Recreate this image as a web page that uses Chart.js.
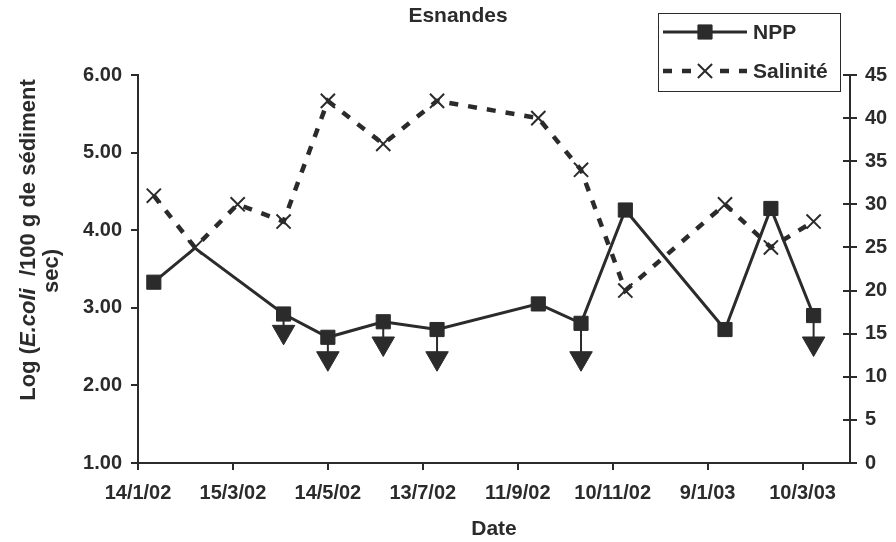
<!DOCTYPE html>
<html>
<head>
<meta charset="utf-8">
<title>Esnandes</title>
<script src="https://cdn.jsdelivr.net/npm/chart.js@4.4.1/dist/chart.umd.min.js"></script>
<style>
  html, body { margin: 0; padding: 0; background: #fff; }
  #wrap { width: 896px; height: 542px; }
</style>
</head>
<body>
<div id="wrap"><canvas id="chart" width="896" height="542"></canvas></div>
<script>
// ---------------------------------------------
// data (x = days after 14/1/02)
// ---------------------------------------------
const tickLabels = ['14/1/02', '15/3/02', '14/5/02', '13/7/02', '11/9/02', '10/11/02', '9/1/03', '10/3/03'];
const tickStep   = 60;
const lastDay    = 450;

const nppDays = [10, 36, 92, 120, 155, 189, 253, 280, 308, 371, 400, 427];
const nppLog  = [3.33, 3.77, 2.92, 2.62, 2.82, 2.72, 3.05, 2.80, 4.26, 2.72, 4.28, 2.90];
const nppNoMarker = [1];

const salDays   = [10, 36, 63, 92, 120, 155, 189, 253, 280, 308, 371, 400, 427];
const salinite  = [31, 25, 30, 28, 42, 37, 42, 40, 34, 20, 30, 25, 28];

// values below detection limit: index into NPP + where the arrow ends
const limitIdx = [2, 3, 4, 5, 7, 11];
const limitLog = [2.69, 2.35, 2.54, 2.35, 2.35, 2.54];

// ---------------------------------------------
// look
// ---------------------------------------------
const FONT_FAMILY = "'Liberation Sans', Arial, Helvetica, sans-serif";
const INK = '#2b2b2b';
const font = (size, style) => ({ family: FONT_FAMILY, size: size, weight: 'bold', style: style || 'normal' });

const nppPoints = nppDays.map((d, i) => ({ x: d, y: nppLog[i] }));
const salPoints = salDays.map((d, i) => ({ x: d, y: salinite[i] }));
const arrowPoints = [];
limitIdx.forEach((k, i) => {
  arrowPoints.push({ x: nppDays[k], y: nppLog[k] });
  arrowPoints.push({ x: nppDays[k], y: limitLog[i] });
  arrowPoints.push({ x: nppDays[k], y: null });
});

// title, rotated y title, boxed legend, inner ticks of right axis
const decor = {
  id: 'decor',
  afterDraw(chart) {
    const ctx = chart.ctx;
    const ca = chart.chartArea;
    ctx.save();
    ctx.fillStyle = INK;
    ctx.strokeStyle = INK;
    ctx.textBaseline = 'middle';

    // title
    ctx.font = `bold 21px ${FONT_FAMILY}`;
    ctx.textAlign = 'center';
    ctx.fillText('Esnandes', 458, 16);

    // left axis title (two lines, E.coli in italics)
    const parts = [['Log (', ''], ['E.coli', 'italic '], ['  /100 g de sédiment', '']];
    ctx.save();
    ctx.translate(29, 240);
    ctx.rotate(-Math.PI / 2);
    ctx.textAlign = 'left';
    let total = 0;
    parts.forEach(p => { ctx.font = `${p[1]}bold 22px ${FONT_FAMILY}`; total += ctx.measureText(p[0]).width; });
    let px = -total / 2;
    parts.forEach(p => {
      ctx.font = `${p[1]}bold 22px ${FONT_FAMILY}`;
      ctx.fillText(p[0], px, 0);
      px += ctx.measureText(p[0]).width;
    });
    ctx.restore();
    ctx.save();
    ctx.translate(52, 271);
    ctx.rotate(-Math.PI / 2);
    ctx.textAlign = 'center';
    ctx.font = `bold 22px ${FONT_FAMILY}`;
    ctx.fillText('sec)', 0, 0);
    ctx.restore();

    // right axis ticks also cross into the plot
    const y2 = chart.scales.y2;
    ctx.lineWidth = 2;
    y2.ticks.forEach(t => {
      const y = Math.round(y2.getPixelForValue(t.value));
      ctx.beginPath();
      ctx.moveTo(ca.right - 7, y);
      ctx.lineTo(ca.right, y);
      ctx.stroke();
    });

    // legend box
    const bx = 658, by = 13, bw = 182, bh = 78;
    ctx.fillStyle = '#fff';
    ctx.fillRect(bx, by, bw, bh);
    ctx.lineWidth = 1;
    ctx.strokeRect(bx + 0.5, by + 0.5, bw, bh);
    const rows = [{ ds: chart.data.datasets[0], y: by + 19 }, { ds: chart.data.datasets[1], y: by + 58 }];
    rows.forEach(r => {
      const ds = r.ds;
      ctx.save();
      ctx.strokeStyle = ds.borderColor;
      ctx.lineWidth = ds.borderWidth;
      ctx.setLineDash(ds.borderDash || []);
      ctx.beginPath();
      ctx.moveTo(bx + 5, r.y);
      ctx.lineTo(bx + 89, r.y);
      ctx.stroke();
      ctx.setLineDash([]);
      ctx.fillStyle = '#fff';
      if (ds.pointStyle === 'crossRot') ctx.fillRect(bx + 37, r.y - 9, 20, 18);
      ctx.fillStyle = ds.backgroundColor;
      ctx.strokeStyle = ds.borderColor;
      ctx.lineWidth = ds.pointBorderWidth || 1;
      Chart.helpers.drawPoint(ctx, {
        pointStyle: ds.pointStyle, rotation: 0, radius: 10, borderWidth: ds.pointBorderWidth || 1
      }, bx + 47, r.y);
      ctx.restore();
      ctx.fillStyle = INK;
      ctx.textAlign = 'left';
      ctx.font = `bold 21px ${FONT_FAMILY}`;
      ctx.fillText(ds.label, bx + 95, r.y + 1);
    });
    ctx.restore();
  }
};

new Chart(document.getElementById('chart'), {
  type: 'line',
  data: {
    datasets: [
      {
        label: 'NPP',
        data: nppPoints,
        yAxisID: 'y',
        borderColor: INK,
        backgroundColor: INK,
        borderWidth: 3,
        pointStyle: 'rect',
        pointRadius: c => nppNoMarker.includes(c.dataIndex) ? 0 : 10,
        pointBorderWidth: 1,
        tension: 0
      },
      {
        label: 'Salinité',
        data: salPoints,
        yAxisID: 'y2',
        borderColor: INK,
        backgroundColor: INK,
        borderWidth: 4.5,
        borderDash: [9, 10],
        pointStyle: 'crossRot',
        pointRadius: 10,
        pointBorderWidth: 2,
        tension: 0
      },
      {
        label: 'limite',
        data: arrowPoints,
        yAxisID: 'y',
        spanGaps: false,
        borderColor: INK,
        backgroundColor: INK,
        borderWidth: 2,
        pointStyle: 'triangle',
        pointRotation: 180,
        pointRadius: c => c.dataIndex % 3 === 1 ? 13 : 0,
        pointBorderWidth: 1,
        tension: 0
      }
    ]
  },
  options: {
    responsive: false,
    animation: false,
    devicePixelRatio: 1,
    layout: { padding: { top: 75, left: 0, right: 0, bottom: 0 } },
    plugins: {
      legend: { display: false },
      title: { display: false },
      tooltip: { enabled: false }
    },
    scales: {
      x: {
        type: 'linear',
        min: 0,
        max: lastDay,
        afterFit: s => { s.height = 79; },
        ticks: {
          stepSize: tickStep,
          includeBounds: false,
          autoSkip: false,
          maxRotation: 0,
          padding: 11,
          color: INK,
          font: font(20),
          callback: v => tickLabels[Math.round(v / tickStep)]
        },
        grid: { drawOnChartArea: false, tickLength: 7, color: INK, lineWidth: 2 },
        border: { color: INK, width: 2 },
        title: { display: true, text: 'Date', color: INK, font: font(21), padding: 0 }
      },
      y: {
        position: 'left',
        min: 1,
        max: 6,
        afterFit: s => { s.width = 138; },
        ticks: { stepSize: 1, padding: 9, color: INK, font: font(20), callback: v => v.toFixed(2) },
        grid: { drawOnChartArea: false, tickLength: 7, color: INK, lineWidth: 2 },
        border: { color: INK, width: 2 }
      },
      y2: {
        position: 'right',
        min: 0,
        max: 45,
        afterFit: s => { s.width = 46; },
        ticks: { stepSize: 5, padding: 8, color: INK, font: font(20) },
        grid: { drawOnChartArea: false, tickLength: 7, color: INK, lineWidth: 2 },
        border: { color: INK, width: 2 }
      }
    }
  },
  plugins: [decor]
});
</script>
</body>
</html>
